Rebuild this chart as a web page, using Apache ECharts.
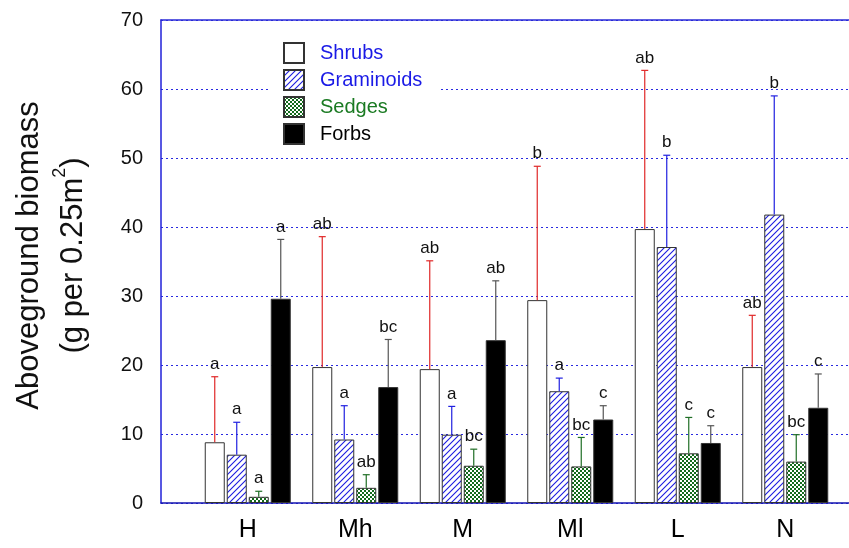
<!DOCTYPE html>
<html>
<head>
<meta charset="utf-8">
<script src="https://cdn.jsdelivr.net/npm/echarts@6/dist/echarts.min.js"></script>
<style>
  html, body { margin: 0; padding: 0; background: #fff; }
  #chart { width: 849px; height: 548px; }
</style>
</head>
<body>
<div id="chart"></div>
<script>
// Site groups along the x axis
const sites = ['H', 'Mh', 'M', 'Ml', 'L', 'N'];
const groupNames = ['Shrubs', 'Graminoids', 'Sedges', 'Forbs'];

// Mean aboveground biomass (g per 0.25 m2) per group and site
const shrubs     = [8.8, 19.7, 19.4, 29.4, 39.7, 19.7];
const graminoids = [7.0, 9.2, 9.9, 16.2, 37.1, 41.8];
const sedges     = [0.9, 2.2, 5.4, 5.3, 7.2, 6.0];
const forbs      = [29.6, 16.8, 23.6, 12.1, 8.7, 13.8];

// Upper end of the error bars
const shrubsErr     = [18.3, 38.6, 35.1, 48.8, 62.7, 27.2];
const graminoidsErr = [11.7, 14.1, 14.0, 18.1, 50.4, 59.0];
const sedgesErr     = [1.7, 4.1, 7.8, 9.5, 12.4, 9.9];
const forbsErr      = [38.2, 23.7, 32.2, 14.1, 11.2, 18.7];

// Significance letters
const shrubsLetters     = ['a', 'ab', 'ab', 'b', 'ab', 'ab'];
const graminoidsLetters = ['a', 'a', 'a', 'a', 'b', 'b'];
const sedgesLetters     = ['a', 'ab', 'bc', 'bc', 'c', 'bc'];
const forbsLetters      = ['a', 'bc', 'ab', 'c', 'c', 'c'];

const yTicks = { min: 0, max: 70, step: 10 };

const FONT = "'Liberation Sans', Arial, Helvetica, sans-serif";

// Fill patterns
function hatchPattern() {
  const s = 6;
  const c = document.createElement('canvas');
  c.width = s; c.height = s;
  const g = c.getContext('2d');
  g.fillStyle = '#fff';
  g.fillRect(0, 0, s, s);
  g.strokeStyle = '#1c1ce0';
  g.lineWidth = 1.1;
  g.beginPath();
  g.moveTo(-1, s + 1); g.lineTo(s + 1, -1);
  g.moveTo(-1, 1); g.lineTo(1, -1);
  g.moveTo(s - 1, s + 1); g.lineTo(s + 1, s - 1);
  g.stroke();
  return c;
}
function checkPattern() {
  const s = 4;
  const c = document.createElement('canvas');
  c.width = s; c.height = s;
  const g = c.getContext('2d');
  g.fillStyle = '#136a1b';
  g.fillRect(0, 0, s, s);
  g.fillStyle = '#ffffff';
  g.fillRect(0, 0, 2, 2);
  g.fillRect(2, 2, 2, 2);
  return c;
}

const fills = [
  '#ffffff',
  { image: hatchPattern(), repeat: 'repeat' },
  { image: checkPattern(), repeat: 'repeat' },
  '#000000'
];
const errColors = ['#e02828', '#2020e0', '#1f6e25', '#555555'];
const legendColors = ['#1a1ae6', '#1a1ae6', '#1a7a22', '#000000'];

const means = [shrubs, graminoids, sedges, forbs];
const errs = [shrubsErr, graminoidsErr, sedgesErr, forbsErr];
const letters = [shrubsLetters, graminoidsLetters, sedgesLetters, forbsLetters];

const BAR_W = 20;
const BAR_STEP = 22;

const barSeries = groupNames.map((name, i) => ({
  name: name,
  type: 'bar',
  xAxisIndex: 1,
  yAxisIndex: 1,
  barWidth: BAR_W,
  barGap: '10%',
  data: means[i],
  itemStyle: { color: fills[i], borderColor: '#333', borderWidth: 1 },
  emphasis: { disabled: true },
  z: 3
}));

const errSeries = groupNames.map((name, i) => ({
  type: 'custom',
  xAxisIndex: 1,
  yAxisIndex: 1,
  z: 4,
  silent: true,
  data: sites.map((s, k) => [k, means[i][k], errs[i][k], letters[i][k]]),
  renderItem: function (params, api) {
    const base = api.coord([api.value(0), api.value(1)]);
    const top = api.coord([api.value(0), api.value(2)]);
    const x = base[0] + (i - 1.5) * BAR_STEP;
    const col = errColors[i];
    return {
      type: 'group',
      children: [
        { type: 'line', shape: { x1: x, y1: base[1], x2: x, y2: top[1] },
          style: { stroke: col, lineWidth: 1.2 } },
        { type: 'line', shape: { x1: x - 3.5, y1: top[1], x2: x + 3.5, y2: top[1] },
          style: { stroke: col, lineWidth: 1.2 } },
        { type: 'text', x: x, y: top[1] - 4,
          style: { text: api.value(3), fill: '#111', font: '17px ' + FONT,
                   align: 'center', verticalAlign: 'bottom' } }
      ]
    };
  }
}));

const chart = echarts.init(document.getElementById('chart'), null, { renderer: 'canvas' });

chart.setOption({
  animation: false,
  backgroundColor: '#fff',
  textStyle: { fontFamily: FONT },
  grid: [
    { left: 161, right: 0, top: 20, bottom: 45, outerBoundsMode: 'none', containLabel: false },
    { left: 194, right: 10, top: 20, bottom: 45, outerBoundsMode: 'none', containLabel: false }
  ],
  legend: {
    orient: 'vertical',
    left: 268,
    top: 34,
    itemWidth: 20,
    itemHeight: 20,
    itemGap: 5,
    padding: [8, 16, 8, 15],
    backgroundColor: '#fff',
    selectedMode: false,
    icon: 'rect',
    data: groupNames.map((n, i) => ({
      name: n,
      textStyle: { color: legendColors[i], fontSize: 20, fontFamily: FONT, padding: [0, 0, 0, 11] }
    }))
  },
  xAxis: [
    { gridIndex: 0, type: 'value', min: 0, max: 1, position: 'bottom',
      axisLine: { show: true, lineStyle: { color: '#1515b0', width: 1.5 } },
      axisTick: { show: false }, axisLabel: { show: false }, splitLine: { show: false } },
    { gridIndex: 1, type: 'category', data: sites, position: 'bottom',
      axisLine: { show: false }, axisTick: { show: false },
      axisLabel: { fontSize: 25, color: '#000', margin: 15, fontFamily: FONT } },
    { gridIndex: 0, type: 'value', min: 0, max: 1, position: 'top',
      axisLine: { show: true, lineStyle: { color: '#2a2ad8', width: 1.5 } },
      axisTick: { show: false }, axisLabel: { show: false }, splitLine: { show: false } }
  ],
  yAxis: [
    { gridIndex: 0, type: 'value', min: yTicks.min, max: yTicks.max, interval: yTicks.step,
      axisLine: { show: true, lineStyle: { color: '#2020d8', width: 1.5 } },
      axisTick: { show: false },
      axisLabel: { fontSize: 20, color: '#111', margin: 18, fontFamily: FONT },
      splitLine: { show: true, lineStyle: { color: '#2a2ae0', type: [2, 3], width: 1.2 } },
      name: 'Aboveground biomass\n(g per 0.25m{sup|2})',
      nameLocation: 'middle',
      nameGap: 66,
      nameRotate: 90,
      nameTextStyle: {
        fontSize: 31, color: '#111', fontFamily: FONT, lineHeight: 44, padding: [0, 0, 0, 12],
        rich: { sup: { fontSize: 18, verticalAlign: 'top', lineHeight: 44, padding: [0, 0, 16, 0] } }
      } },
    { gridIndex: 1, type: 'value', min: yTicks.min, max: yTicks.max, interval: yTicks.step, show: false,
      splitLine: { show: false } }
  ],
  series: barSeries.concat(errSeries)
});
</script>
</body>
</html>
